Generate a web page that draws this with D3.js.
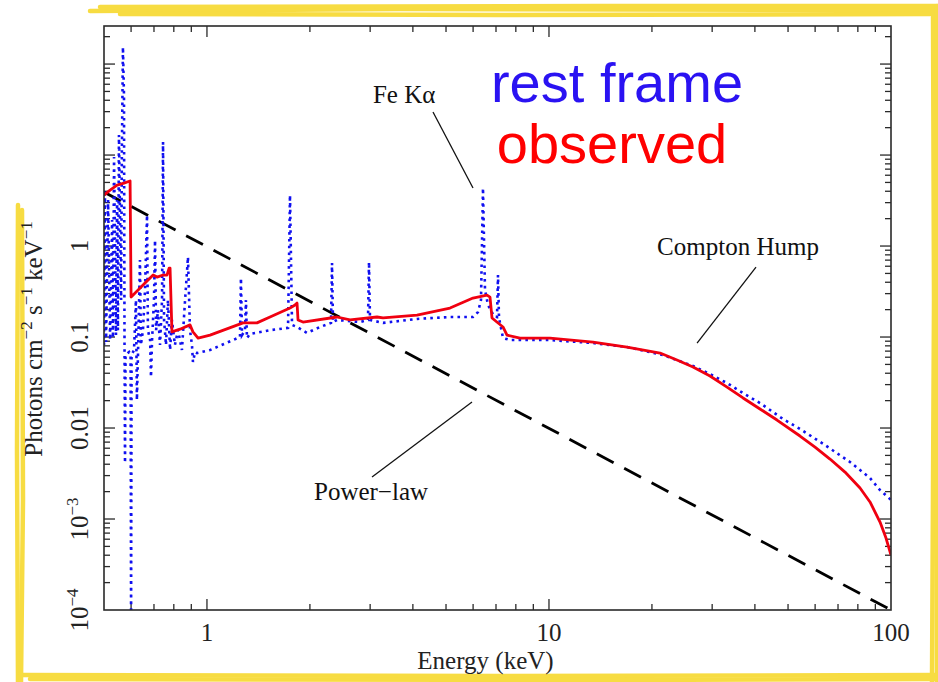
<!DOCTYPE html>
<html><head><meta charset="utf-8">
<script src="https://cdn.jsdelivr.net/npm/d3@7"></script>
<style>body{margin:0;background:#fff}svg{display:block}</style>
</head><body>
<svg id="chart" width="938" height="682"></svg>
<script>
// ---------- data ----------
const observedEnergy = [0.500,0.521,0.546,0.572,0.596,0.600,0.629,0.659,0.696,0.715,0.744,0.764,0.775,0.780,0.790,0.834,0.892,0.910,0.942,1.021,1.275,1.400,1.529,1.749,1.809,1.834,1.846,1.909,2.400,2.620,3.142,3.272,4.113,5.136,5.996,6.589,6.723,6.814,7.338,7.538,8.228,10.07,13.45,16.91,21.12,23.67,26.37,29.57,33.16,36.93,41.40,46.42,54.20,59.96,66.32,73.37,81.18,86.82,92.88,96.69,100];
const observedFlux = [3.63,4.12,4.68,4.92,5.18,0.275,0.328,0.392,0.480,0.456,0.480,0.480,0.573,0.573,0.114,0.122,0.136,0.114,0.0975,0.105,0.143,0.143,0.166,0.208,0.225,0.236,0.154,0.146,0.166,0.154,0.166,0.162,0.174,0.208,0.268,0.289,0.275,0.162,0.129,0.105,0.0975,0.0975,0.0881,0.0776,0.0667,0.0559,0.0468,0.0373,0.0282,0.0214,0.0162,0.01224,0.00817,0.00618,0.00456,0.00328,0.00219,0.00154,0.000927,0.000618,0.000402];

const restEnergy = [0.500,0.503,0.507,0.514,0.521,0.528,0.531,0.535,0.542,0.546,0.549,0.553,0.561,0.564,0.568,0.572,0.574,0.576,0.578,0.592,0.598,0.600,0.602,0.612,0.620,0.624,0.629,0.637,0.641,0.650,0.659,0.668,0.672,0.682,0.686,0.691,0.700,0.705,0.710,0.719,0.729,0.739,0.744,0.749,0.759,0.769,0.780,0.790,0.806,0.823,0.845,0.863,0.880,0.892,0.904,0.910,0.923,0.935,1.021,1.249,1.257,1.266,1.292,1.300,1.309,1.336,1.529,1.726,1.749,1.773,1.834,1.961,2.141,2.305,2.321,2.336,2.400,2.802,2.957,2.977,2.997,3.272,4.113,5.136,5.996,6.201,6.327,6.413,6.500,6.633,6.906,7.047,7.095,7.143,7.338,7.691,10.07,13.45,16.91,21.55,26.37,29.57,33.16,36.93,41.40,48.33,54.20,64.12,75.88,86.82,92.88,100];
const restFlux = [0.0817,4.12,0.0881,3.20,0.0927,1.93,0.0975,9.51,0.105,3.20,0.119,16.6,0.255,11.3,154,45.6,0.0927,0.00413,0.0634,0.0684,0.0634,0.000078,0.0634,0.0720,0.255,0.0203,0.0720,0.702,0.0817,0.119,0.328,2.19,0.119,0.0927,0.0363,0.0927,0.255,1.16,0.119,0.198,0.0817,0.255,13.9,0.154,0.0817,0.255,0.0720,0.154,0.0817,0.119,0.0720,0.255,0.757,0.119,0.0817,0.0531,0.0684,0.0667,0.0720,0.100,0.445,0.105,0.119,0.255,0.0975,0.108,0.119,0.126,3.63,0.136,0.129,0.111,0.129,0.143,0.650,0.146,0.154,0.146,0.154,0.667,0.154,0.143,0.158,0.166,0.166,0.188,0.255,4.34,0.328,0.225,0.170,0.166,0.480,0.162,0.0975,0.0927,0.0927,0.0859,0.0776,0.0634,0.0480,0.0392,0.0312,0.0242,0.0188,0.01256,0.00975,0.0065,0.00423,0.00282,0.00208,0.00162];

const powerLawEnergy = [0.5, 100];
const powerLawFlux = [3.92, 0.0001];

const xTickValues = [1, 10, 100];
const xTickLabels = ["1", "10", "100"];
const yTickValues = [0.0001, 0.001, 0.01, 0.1, 1];
const yTickBase = ["10", "10", "0.01", "0.1", "1"];
const yTickExp = ["\u22124", "\u22123", "", "", ""];

const annotationText = ["Fe K\u03b1", "Compton Hump", "Power\u2212law"];
const annotationTextE = [3.77, 35.7, 3.018];
const annotationTextF = [37.3, 0.796, 0.00162];
const leaderFromE = [4.58, 40.3, 3.038];
const leaderFromF = [29.7, 0.588, 0.00289];
const leaderToE = [5.996, 27.1, 5.956];
const leaderToF = [4.34, 0.0859, 0.0193];

const legendLabels = ["rest frame", "observed"];

// ---------- layout ----------
const svg = d3.select("#chart");
const L = 104, R = 891, T = 26, B = 610;
const x = d3.scaleLog().domain([0.5, 100]).range([L, R]);
const y = d3.scaleLog().domain([1e-4, 262]).range([B, T]);
const serif = "'Liberation Serif','Times New Roman',serif";
const sans = "'Liberation Sans',Arial,sans-serif";

// highlighter frame
const yellow = svg.append("g").attr("fill", "none").attr("stroke", "#f7d92e")
  .attr("stroke-linecap", "round").attr("opacity", 0.9);
[
  [[90,11],[400,9],[938,10]], [[100,7],[600,6],[938,6]], [[120,14],[500,15],[930,14]],
  [[933,10],[934,300],[932,682]], [[937,6],[936,400],[937,682]],
  [[20,675],[500,676],[938,675]], [[30,679],[600,680],[938,679]],
  [[18,205],[17,450],[18,682]], [[22,210],[23,500],[21,682]]
].forEach(p => yellow.append("path").attr("d", d3.line()(p)).attr("stroke-width", 4.5));

// clip
svg.append("clipPath").attr("id", "plotclip").append("rect")
  .attr("x", L).attr("y", T).attr("width", R - L).attr("height", B - T);

// ticks
const axisColor = "#2a2a2a";
const tickG = svg.append("g").attr("stroke", axisColor).attr("stroke-width", 1.3);
const isMajor = v => Math.abs(Math.log10(v) - Math.round(Math.log10(v))) < 1e-6;
x.ticks().forEach(v => {
  const len = isMajor(v) ? 11 : 6, px = x(v);
  if (px <= L + 0.5 || px >= R - 0.5) return;
  tickG.append("line").attr("x1", px).attr("x2", px).attr("y1", B).attr("y2", B - len);
  tickG.append("line").attr("x1", px).attr("x2", px).attr("y1", T).attr("y2", T + len);
});
y.ticks().forEach(v => {
  const len = isMajor(v) ? 11 : 6, py = y(v);
  if (py >= B - 0.5 || py <= T + 0.5) return;
  tickG.append("line").attr("x1", L).attr("x2", L + len).attr("y1", py).attr("y2", py);
  tickG.append("line").attr("x1", R).attr("x2", R - len).attr("y1", py).attr("y2", py);
});

// curves
const plot = svg.append("g").attr("clip-path", "url(#plotclip)");
const line = d3.line().x(d => x(d[0])).y(d => y(d[1]));
plot.append("path").datum(powerLawEnergy.map((e, i) => [e, powerLawFlux[i]]))
  .attr("d", line).attr("fill", "none").attr("stroke", "#000")
  .attr("stroke-width", 2.8).attr("stroke-dasharray", "19 12");
plot.append("path").datum(restEnergy.map((e, i) => [e, restFlux[i]]))
  .attr("d", line).attr("fill", "none").attr("stroke", "#1010f0")
  .attr("stroke-width", 2.6).attr("stroke-dasharray", "2.6 4.2");
plot.append("path").datum(observedEnergy.map((e, i) => [e, observedFlux[i]]))
  .attr("d", line).attr("fill", "none").attr("stroke", "#f00010")
  .attr("stroke-width", 2.8).attr("stroke-linejoin", "round");

// frame
svg.append("rect").attr("x", L).attr("y", T).attr("width", R - L).attr("height", B - T)
  .attr("fill", "none").attr("stroke", axisColor).attr("stroke-width", 1.6);

// x tick labels
xTickValues.forEach((v, i) => {
  svg.append("text").attr("x", x(v)).attr("y", 641).attr("text-anchor", "middle")
    .attr("font-family", serif).attr("font-size", 25).attr("fill", "#222").text(xTickLabels[i]);
});
// y tick labels (rotated)
yTickValues.forEach((v, i) => {
  const t = svg.append("text").attr("transform", `translate(88,${y(v)}) rotate(-90)`)
    .attr("text-anchor", "middle").attr("font-family", serif).attr("font-size", 25).attr("fill", "#222");
  t.append("tspan").text(yTickBase[i]);
  if (yTickExp[i]) t.append("tspan").attr("dy", -10).attr("font-size", 17).text(yTickExp[i]);
});

// axis titles
svg.append("text").attr("x", (L + R) / 2 - 12).attr("y", 669).attr("text-anchor", "middle")
  .attr("font-family", serif).attr("font-size", 25).attr("fill", "#222").text("Energy (keV)");
const yt = svg.append("text").attr("transform", "translate(42,339) rotate(-90)")
  .attr("text-anchor", "middle").attr("font-family", serif).attr("font-size", 25).attr("fill", "#222");
yt.append("tspan").text("Photons cm");
yt.append("tspan").attr("dy", -10).attr("font-size", 17).text("\u22122");
yt.append("tspan").attr("dy", 10).text(" s");
yt.append("tspan").attr("dy", -10).attr("font-size", 17).text("\u22121");
yt.append("tspan").attr("dy", 10).text(" keV");
yt.append("tspan").attr("dy", -10).attr("font-size", 17).text("\u22121");

// annotations
annotationText.forEach((s, i) => {
  svg.append("line").attr("x1", x(leaderFromE[i])).attr("y1", y(leaderFromF[i]))
    .attr("x2", x(leaderToE[i])).attr("y2", y(leaderToF[i]))
    .attr("stroke", "#111").attr("stroke-width", 1.3);
  svg.append("text").attr("x", x(annotationTextE[i])).attr("y", y(annotationTextF[i]))
    .attr("text-anchor", "middle").attr("font-family", serif).attr("font-size", 25)
    .attr("fill", "#111").text(s);
});

// legend words
svg.append("text").attr("x", 617).attr("y", 102).attr("text-anchor", "middle")
  .attr("font-family", sans).attr("font-size", 56).attr("fill", "#2a12f2").text(legendLabels[0]);
svg.append("text").attr("x", 612).attr("y", 163).attr("text-anchor", "middle")
  .attr("font-family", sans).attr("font-size", 56).attr("fill", "#ff0000").text(legendLabels[1]);
</script>
</body></html>
